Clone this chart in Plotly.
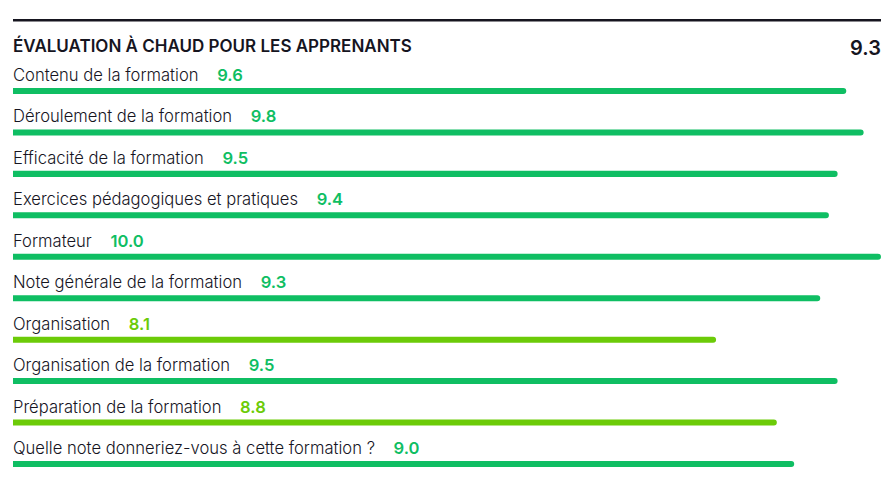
import plotly.graph_objects as go

title = "ÉVALUATION À CHAUD POUR LES APPRENANTS"
overall = "9.3"
criteria = [
    "Contenu de la formation",
    "Déroulement de la formation",
    "Efficacité de la formation",
    "Exercices pédagogiques et pratiques",
    "Formateur",
    "Note générale de la formation",
    "Organisation",
    "Organisation de la formation",
    "Préparation de la formation",
    "Quelle note donneriez-vous à cette formation ?",
]
scores = [9.6, 9.8, 9.5, 9.4, 10.0, 9.3, 8.1, 9.5, 8.8, 9.0]

GREEN = "#0fbe63"
LIME = "#6ccb08"
INK = "#16151f"


def score_color(v):
    return GREEN if v >= 9 else LIME


colors = [score_color(v) for v in scores]
rows = list(range(len(criteria)))

fig = go.Figure(
    go.Bar(
        x=scores,
        y=rows,
        orientation="h",
        width=0.145,
        marker=dict(color=colors, line=dict(width=0)),
        hoverinfo="skip",
    )
)

for i, (name, v) in enumerate(zip(criteria, scores)):
    fig.add_annotation(
        x=0, y=i, xref="x", yref="y",
        xanchor="left", yanchor="middle", xshift=-2, yshift=16,
        showarrow=False,
        text=f"{name}&nbsp;&nbsp;&nbsp;&nbsp;<span style='color:{score_color(v)};font-weight:600'>{v:.1f}</span>",
        font=dict(family="Inter", size=16.6, color=INK, weight=300),
    )

fig.add_annotation(
    x=0, y=-1.09, xref="x", yref="y", xanchor="left", yanchor="middle",
    xshift=-2, showarrow=False, text=title,
    font=dict(family="Inter", size=17, color=INK, weight=600),
)
fig.add_annotation(
    x=10, y=-1.04, xref="x", yref="y", xanchor="right", yanchor="middle",
    xshift=2, showarrow=False, text=overall,
    font=dict(family="Inter", size=20, color=INK, weight=600),
)
fig.add_shape(
    type="line", xref="x", yref="y", x0=0, x1=10, y0=-1.71, y1=-1.71,
    line=dict(color=INK, width=2.5),
)

# page body keeps its 8px margin, so the figure is sized to fit inside it
fig.update_layout(
    width=879, height=469,
    margin=dict(l=5, r=6, t=0, b=0),
    paper_bgcolor="white", plot_bgcolor="white",
    showlegend=False,
    barcornerradius=3,
    xaxis=dict(range=[0, 10], visible=False, fixedrange=True),
    yaxis=dict(range=[9.315, -2.003], visible=False, fixedrange=True),
)

fig.write_html("out.html")
